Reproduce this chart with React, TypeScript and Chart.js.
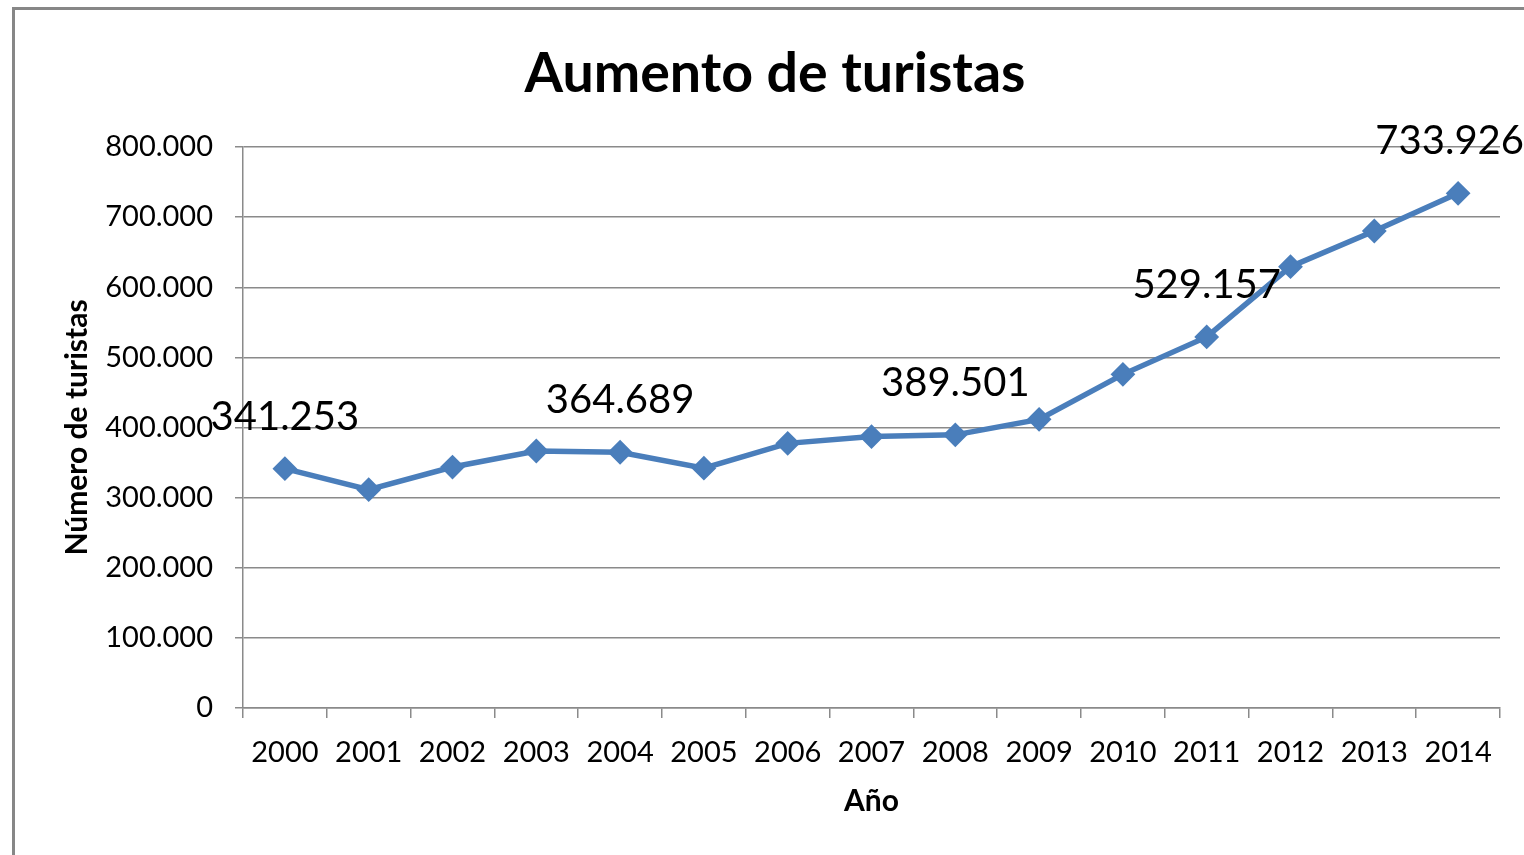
import React, { useEffect, useRef } from 'react';
import { Chart, registerables } from 'chart.js';

Chart.register(...registerables);

const years = ['2000', '2001', '2002', '2003', '2004', '2005', '2006', '2007', '2008', '2009', '2010', '2011', '2012', '2013', '2014'];
const tourists = [341253, 311300, 343600, 366500, 364689, 342000, 377400, 387000, 389501, 411600, 475800, 529157, 629300, 680200, 733926];
const labeledIndices = [0, 4, 8, 11, 14];
const yMin = 0;
const yMax = 800000;
const yStep = 100000;
const chartTitle = 'Aumento de turistas';
const xTitle = 'Año';
const yTitle = 'Número de turistas';

const FONT = 'Lato, "Open Sans", sans-serif';
const GRID = '#8a8a8a';
const BLUE = '#4a7ebb';

function fmt(v: number): string {
  return Math.round(v).toString().replace(/\B(?=(\d{3})+(?!\d))/g, '.');
}

const overlayPlugin = {
  id: 'overlay',
  beforeDraw(chart: any) {
    const ctx = chart.ctx;
    ctx.save();
    ctx.fillStyle = '#ffffff';
    ctx.fillRect(0, 0, chart.width, chart.height);
    ctx.strokeStyle = '#878787';
    ctx.lineWidth = 3;
    ctx.strokeRect(13.5, 8.5, 1700, 1000);
    ctx.restore();
  },
  afterDraw(chart: any) {
    const ctx = chart.ctx;
    const area = chart.chartArea;
    ctx.save();
    ctx.fillStyle = '#000000';
    ctx.textBaseline = 'alphabetic';
    ctx.textAlign = 'center';
    ctx.font = `bold 55.5px ${FONT}`;
    ctx.fillText(chartTitle, 775, 92);

    ctx.font = `bold 30px ${FONT}`;
    ctx.fillText(xTitle, (area.left + area.right) / 2, 811);

    ctx.save();
    ctx.translate(87, (area.top + area.bottom) / 2);
    ctx.rotate(-Math.PI / 2);
    ctx.fillText(yTitle, 0, 0);
    ctx.restore();

    ctx.font = `40px ${FONT}`;
    const meta = chart.getDatasetMeta(0);
    labeledIndices.forEach((i) => {
      const pt = meta.data[i];
      if (!pt) return;
      const text = fmt(tourists[i]);
      const w = ctx.measureText(text).width;
      const cx = Math.min(pt.x, chart.width - w / 2);
      ctx.fillText(text, cx, pt.y - 39);
    });
    ctx.restore();
  },
};

export default function App() {
  const ref = useRef<HTMLCanvasElement | null>(null);

  useEffect(() => {
    if (!ref.current) return;
    const chart = new Chart(ref.current, {
      type: 'line',
      data: {
        labels: years,
        datasets: [
          {
            label: yTitle,
            data: tourists,
            borderColor: BLUE,
            backgroundColor: BLUE,
            borderWidth: 5.5,
            pointStyle: 'rectRot',
            pointRadius: 11,
            pointBorderWidth: 2,
            pointBackgroundColor: BLUE,
            pointBorderColor: BLUE,
            tension: 0,
          },
        ],
      },
      options: {
        responsive: false,
        animation: false,
        devicePixelRatio: 1,
        layout: { padding: { top: 147, right: 24, left: 0, bottom: 0 } },
        plugins: {
          legend: { display: false },
          title: { display: false },
          tooltip: { enabled: false },
        },
        scales: {
          x: {
            type: 'category',
            offset: true,
            grid: {
              offset: true,
              drawOnChartArea: false,
              drawTicks: true,
              tickLength: 10,
              color: GRID,
              lineWidth: 1.5,
            },
            border: { display: true, color: GRID, width: 1.5 },
            ticks: {
              color: '#000000',
              font: { family: FONT, size: 29 },
              padding: 17,
              maxRotation: 0,
              autoSkip: false,
            },
            afterFit(scale: any) {
              scale.height = 147;
            },
          },
          y: {
            min: yMin,
            max: yMax,
            grid: {
              color: GRID,
              lineWidth: 1.5,
              drawTicks: true,
              tickLength: 8,
            },
            border: { display: true, color: GRID, width: 1.5 },
            ticks: {
              stepSize: yStep,
              color: '#000000',
              font: { family: FONT, size: 29 },
              padding: 22,
              callback: (v: any) => fmt(Number(v)),
            },
            afterFit(scale: any) {
              scale.width = 243;
            },
          },
        },
      },
      plugins: [overlayPlugin],
    });
    return () => chart.destroy();
  }, []);

  return (
    <canvas
      ref={ref}
      width={1524}
      height={855}
      style={{ position: 'fixed', left: 0, top: 0, display: 'block', width: 1524, height: 855 }}
    />
  );
}
